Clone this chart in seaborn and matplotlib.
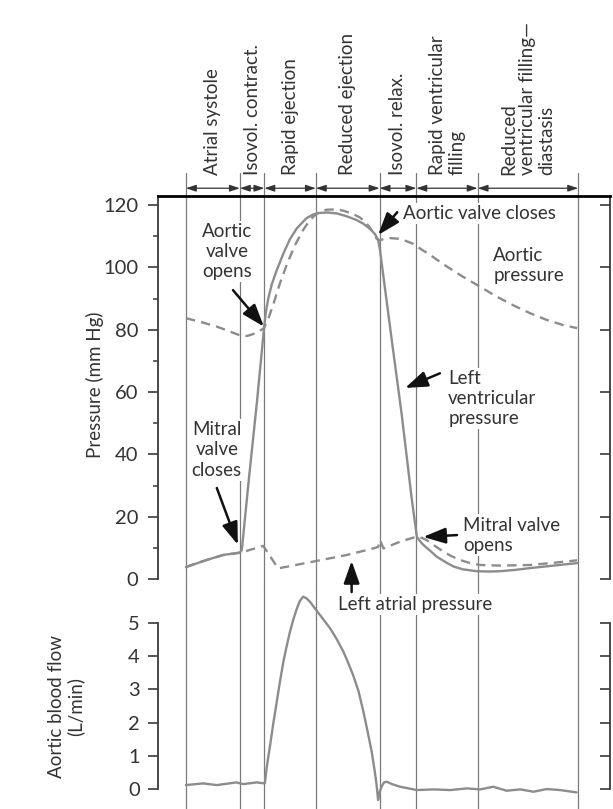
import matplotlib
matplotlib.use("Agg")
import matplotlib.pyplot as plt
import seaborn as sns

# Phases of one cardiac cycle, boundaries in ms
phase_edges = [0, 110, 160, 265, 395, 470, 595, 800]
phase_names = ["Atrial systole", "Isovol. contract.", "Rapid ejection",
               "Reduced ejection", "Isovol. relax.", "Rapid ventricular\nfilling",
               "Reduced\nventricular filling\u2014\ndiastasis"]

# Left ventricular pressure (mm Hg)
lv_t = [0, 42, 76, 110, 114, 129, 145, 159, 163, 168, 175, 185, 199, 212, 226,
        246, 260, 273, 290, 308, 328, 348, 362, 376, 386, 392, 396, 400, 405,
        420, 440, 460, 471, 477, 484, 491, 498, 512, 533, 546, 565, 593, 620,
        641, 670, 702, 750, 798]
lv_p = [3.8, 6.1, 7.7, 8.5, 9.3, 33, 57, 80, 85.5, 90, 94.5, 99, 104.5, 109,
        112.5, 115.8, 117, 117.5, 117.6, 117.3, 116.4, 115.2, 114.0, 112.3,
        110.6, 108.8, 105.5, 100.5, 94.5, 76.5, 53, 26.5, 13.6, 12.2, 11.0,
        10.0, 9.1, 7.1, 5.1, 4.0, 3.1, 2.5, 2.4, 2.5, 2.9, 3.5, 4.3, 5.1]

# Aortic pressure (mm Hg)
ao_t = [0, 30, 63, 90, 110, 125, 137, 150, 159, 168, 178, 192, 206, 222, 239,
        253, 267, 287, 305, 321, 340, 355, 366, 376, 384, 389, 394, 402, 416,
        433, 448, 463, 480, 498, 530, 565, 600, 634, 668, 702, 735, 769, 798]
ao_p = [83.7, 82.5, 81, 79.4, 78.2, 78, 78.6, 79.6, 80.5, 83.5, 88, 95, 101,
        107, 112, 115.2, 117.3, 118.5, 118.6, 118.2, 117.2, 116, 114.6, 112.6,
        110.5, 109.2, 108.7, 109.0, 109.4, 109.2, 108.5, 107.6, 105.8, 104,
        100.5, 97, 93.8, 90.6, 87.8, 85.3, 83.2, 81.5, 80.5]

# Left atrial pressure (mm Hg)
la_t = [0, 42, 76, 110, 158, 188, 260, 328, 382, 392, 396, 403, 437, 471, 481,
        491, 508, 525, 542, 559, 580, 600, 641, 702, 750, 798]
la_p = [3.9, 6.1, 7.7, 8.4, 10.6, 3.4, 5.6, 7.7, 9.8, 10.3, 12.5, 9.8, 12, 13.6,
        13.2, 12.5, 10.6, 8.8, 7.3, 6.1, 5.1, 4.5, 4.3, 4.5, 5.2, 6.0]

# Aortic blood flow (L/min)
flow_t = [0, 35, 63, 103, 117, 144, 161, 165, 172, 178, 185, 192, 199, 206, 212,
          219, 226, 232, 239, 246, 254, 263, 278, 294, 308, 321, 331, 341, 352,
          362, 371, 379, 385, 389, 392, 395, 399, 404, 410, 420, 437, 471, 505,
          539, 573, 600, 627, 654, 682, 709, 736, 763, 797]
flow_q = [0.12, 0.17, 0.12, 0.2, 0.15, 0.2, 0.17, 0.67, 1.35, 1.95, 2.6, 3.25,
          3.85, 4.33, 4.72, 5.1, 5.42, 5.65, 5.79, 5.74, 5.62, 5.44, 5.15, 4.84,
          4.5, 4.14, 3.8, 3.43, 2.95, 2.33, 1.7, 1.12, 0.55, 0.12, -0.33, -0.1,
          0.07, 0.2, 0.22, 0.15, 0.07, -0.03, -0.01, -0.03, 0.02, -0.01, 0.07,
          -0.05, -0.01, -0.08, 0.0, -0.03, -0.1]

p_ticks = [0, 20, 40, 60, 80, 100, 120]
p_minor = [10, 30, 50, 70, 90, 110]
q_ticks = [0, 1, 2, 3, 4, 5]

sns.set_theme(style="white")
plt.rcParams["font.family"] = ["Lato", "DejaVu Sans"]

TXT = "#333333"
AXC = "#3a3a3a"
CURVE = "#8c8c8c"
GRID = "#7a7a7a"
DASH = (0, (4, 2.6))
FS = 13.5

fig = plt.figure(figsize=(6.13, 8.09), dpi=100)
ax_p = fig.add_axes([0.2577, 0.2843, 0.7374, 0.4734])
ax_f = fig.add_axes([0.2577, 0.0, 0.7374, 0.2707])
for ax in (ax_p, ax_f):
    ax.set_facecolor("none")
ax_p.set_zorder(2)
ax_f.set_zorder(1)

# Phase boundary lines
for e in phase_edges:
    ax_p.axvline(e, ymin=-0.03, ymax=1.06, clip_on=False, color=GRID, lw=0.9, zorder=1)
    ax_f.axvline(e, ymin=0, ymax=1, color=GRID, lw=0.9, zorder=1)

# Phase brackets and names
for a, b, name in zip(phase_edges[:-1], phase_edges[1:], phase_names):
    ax_p.annotate("", xy=(b, 125.4), xytext=(a, 125.4), annotation_clip=False,
                  arrowprops=dict(arrowstyle="<|-|>,head_length=0.6,head_width=0.2",
                                  color=TXT, lw=0.9, shrinkA=0, shrinkB=0,
                                  mutation_scale=10))
    ax_p.text((a + b) / 2, 129.6, name, rotation=90, ha="center", va="bottom",
              multialignment="left", fontsize=FS, color=TXT, clip_on=False,
              linespacing=1.15)

# Pressure curves
line_kw = dict(color=CURVE, lw=1.7, estimator=None, sort=False, zorder=3,
               solid_joinstyle="round")
sns.lineplot(x=lv_t, y=lv_p, ax=ax_p, **line_kw)
sns.lineplot(x=ao_t, y=ao_p, ax=ax_p, linestyle=DASH, **line_kw)
sns.lineplot(x=la_t, y=la_p, ax=ax_p, linestyle=DASH, **line_kw)

# Flow curve
sns.lineplot(x=flow_t, y=flow_q, ax=ax_f, **line_kw)

p_top = 122.9
for ax in (ax_p, ax_f):
    ax.set_xlim(-57, 865)
    ax.set_xticks([])
    ax.set_xlabel("")
ax_p.set_ylim(0, p_top)
ax_f.set_ylim(-0.6, 5.99)

# Axes styling: upper panel
ax_p.spines["bottom"].set_visible(False)
ax_p.spines["right"].set_visible(False)
ax_p.spines["top"].set_color("black")
ax_p.spines["top"].set_linewidth(2.0)
ax_p.spines["left"].set_color(AXC)
ax_p.spines["left"].set_linewidth(1.3)
ax_p.set_yticks(p_ticks)
ax_p.set_yticks(p_minor, minor=True)
ax_p.tick_params(axis="y", which="major", direction="out", length=7, width=1.2,
                 color=AXC, labelsize=14.5, labelcolor=TXT, pad=7, left=True)
ax_p.tick_params(axis="y", which="minor", direction="out", length=3.5, width=1.1,
                 color=AXC, left=True)
ax_p.set_ylabel("Pressure (mm Hg)", fontsize=FS, color=TXT, va="center")
ax_p.yaxis.set_label_coords(-0.14, 0.5065)

sec_p = ax_p.secondary_yaxis("right")
sec_p.set_yticks(p_ticks)
sec_p.tick_params(direction="in", length=7, width=1.2, color=AXC, labelright=False)
sec_p.spines["right"].set_color(AXC)
sec_p.spines["right"].set_linewidth(1.3)

# Axes styling: lower panel
for s in ("top", "bottom", "right"):
    ax_f.spines[s].set_visible(False)
ax_f.spines["left"].set_bounds(0, 5)
ax_f.spines["left"].set_color(AXC)
ax_f.spines["left"].set_linewidth(1.3)
ax_f.set_yticks(q_ticks)
ax_f.tick_params(axis="y", which="major", direction="out", length=7, width=1.2,
                 color=AXC, labelsize=14.5, labelcolor=TXT, pad=6, left=True)
ax_f.set_ylabel("Aortic blood flow\n(L/min)", fontsize=FS, color=TXT, va="center",
                linespacing=1.1)
ax_f.yaxis.set_label_coords(-0.2035, 0.470)

sec_f = ax_f.secondary_yaxis("right")
sec_f.set_yticks(q_ticks)
sec_f.tick_params(direction="in", length=7, width=1.2, color=AXC, labelright=False)
sec_f.spines["right"].set_bounds(0, 5)
sec_f.spines["right"].set_color(AXC)
sec_f.spines["right"].set_linewidth(1.3)

# Annotations
box = dict(facecolor="white", edgecolor="none", pad=1.5)
notes = [
    ("Aortic\nvalve\nopens", 84, 105, "center"),
    ("Mitral\nvalve\ncloses", 63, 41.4, "center"),
    ("Aortic valve closes", 443, 117.4, "left"),
    ("Aortic\npressure", 627, 100.7, "left"),
    ("Left\nventricular\npressure", 535, 58, "left"),
    ("Mitral valve\nopens", 565, 14.1, "left"),
    ("Left atrial pressure", 310, -8.3, "left"),
]
for text, x, y, ha in notes:
    ax_p.text(x, y, text, ha=ha, va="center", multialignment=ha, fontsize=FS,
              color=TXT, bbox=box, zorder=6, clip_on=False, linespacing=1.22)

arrows = [
    ((159, 81), (96, 92.7)),
    ((106, 11), (63, 29.2)),
    ((392, 110.4), (431, 117.7)),
    ((447, 61.3), (518, 66)),
    ((484, 13.5), (553, 14.1)),
    ((338, 5.8), (338, -4.2)),
]
for tip, tail in arrows:
    ax_p.annotate("", xy=tip, xytext=tail, annotation_clip=False, zorder=7,
                  arrowprops=dict(arrowstyle="-|>,head_length=0.85,head_width=0.3",
                                  color="#111111", lw=1.8, shrinkA=0, shrinkB=0,
                                  mutation_scale=16))

fig.savefig("out.png", dpi=100)
